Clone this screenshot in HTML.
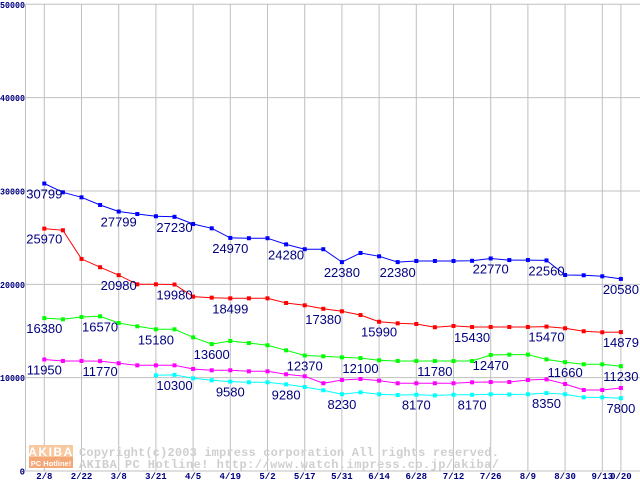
<!DOCTYPE html>
<html><head><meta charset="utf-8"><style>
html,body{margin:0;padding:0;background:#fff;}
svg{display:block;}
</style></head><body>
<svg id="chart" width="640" height="480" xmlns="http://www.w3.org/2000/svg" font-family="Liberation Sans, sans-serif">
<g id="grid"></g>
<g id="watermark">
  <rect x="29" y="445" width="44" height="12" fill="#f8c8a0"/>
  <rect x="29" y="457" width="44" height="11" fill="#f4a878"/>
  <text x="51" y="456" text-anchor="middle" font-size="12" font-weight="bold" fill="#fff" letter-spacing="1.5">AKIBA</text>
  <text x="51" y="466" text-anchor="middle" font-size="7.5" font-weight="bold" fill="#fff">PC Hotline!</text>
  <text x="79" y="456" textLength="420" font-family="Liberation Mono, monospace" font-size="12" font-weight="bold" fill="#cfcfcf">Copyright(c)2003 impress corporation All rights reserved.</text>
  <text x="79" y="468" textLength="420" font-family="Liberation Mono, monospace" font-size="12" font-weight="bold" fill="#cfcfcf">AKIBA PC Hotline!  http://www.watch.impress.co.jp/akiba/</text>
</g>
<g id="series"></g>
<g id="labels"></g>
<g id="axes"></g>
</svg>
<script>
const yTicks = [0, 10000, 20000, 30000, 40000, 50000];
const xTickLabels = ["2/8","2/22","3/8","3/21","4/5","4/19","5/2","5/17","5/31","6/14","6/28","7/12","7/26","8/9","8/30","9/13","0/20"];
const xTickIndex = [0,2,4,6,8,10,12,14,16,18,20,22,24,26,28,30,31];
const blueValues = [30799,29860,29320,28500,27799,27530,27290,27230,26460,26000,24970,24940,24940,24280,23760,23760,22380,23360,23000,22380,22500,22500,22500,22520,22770,22600,22600,22560,21000,20970,20860,20580];
const redValues = [25970,25790,22720,21830,20980,20000,20000,19980,18680,18570,18499,18499,18499,18000,17750,17380,17110,16710,15990,15820,15750,15400,15540,15430,15430,15430,15430,15470,15290,14970,14860,14879];
const greenValues = [16380,16250,16500,16570,15860,15500,15180,15180,14320,13600,13930,13710,13470,12930,12370,12290,12180,12100,11860,11790,11790,11780,11780,11780,12430,12470,12470,11960,11660,11430,11430,11230];
const magentaValues = [11950,11790,11790,11770,11540,11320,11320,11320,10930,10790,10790,10680,10680,10360,10150,9400,9750,9860,9680,9400,9400,9400,9400,9500,9530,9530,9750,9820,9320,8680,8680,8890];
const cyanValues = [null,null,null,null,null,null,10250,10300,9930,9720,9580,9500,9500,9280,9000,8650,8230,8430,8220,8140,8170,8100,8170,8170,8220,8200,8220,8350,8220,7890,7890,7800];
const blueLabelIdx = [0,4,7,10,13,16,19,24,27,31];
const blueLabels = ["30799","27799","27230","24970","24280","22380","22380","22770","22560","20580"];
const redLabelIdx = [0,4,7,10,15,18,23,27,31];
const redLabels = ["25970","20980","19980","18499","17380","15990","15430","15470","14879"];
const greenLabelIdx = [0,3,6,9,14,17,21,24,28,31];
const greenLabels = ["16380","16570","15180","13600","12370","12100","11780","12470","11660","11230"];
const magentaLabelIdx = [0,3];
const magentaLabels = ["11950","11770"];
const cyanLabelIdx = [7,10,13,16,20,23,27,31];
const cyanLabels = ["10300","9580","9280","8230","8170","8170","8350","7800"];

const NS = "http://www.w3.org/2000/svg";
const X0 = 44.3, DX = 18.6, Y0 = 471, YMAX = 4.3, VMAX = 50000;
function xs(i){ return X0 + i*DX; }
function ys(v){ return Y0 - (Y0-YMAX)*v/VMAX; }
function mk(tag, attrs, parent){ const e=document.createElementNS(NS,tag); for(const k in attrs) e.setAttribute(k,attrs[k]); parent.appendChild(e); return e; }

const grid = document.getElementById('grid');
yTicks.forEach(t=>{
  const l = mk('line',{x1:25.5,x2:640,y1:ys(t),y2:ys(t),stroke:'#c0c0c0','stroke-width':1},grid);
  
  
});
const vl = mk('line',{x1:25.5,x2:25.5,y1:YMAX,y2:Y0,stroke:'#c0c0c0','stroke-width':1},grid);


xTickIndex.forEach(i=>{
  const l = mk('line',{x1:xs(i),x2:xs(i),y1:YMAX,y2:Y0,stroke:'#c0c0c0','stroke-width':1},grid);
  
  
});

const axes = document.getElementById('axes');
yTicks.forEach(t=>{
  const s = String(t);
  const attrs = {x:25,y:ys(t)+3.5,'text-anchor':'end','font-size':9,'font-weight':'bold',fill:'#000080','font-family':'Liberation Mono, monospace'};
  if(s.length>1){ attrs.x = 0; attrs['text-anchor']='start'; attrs.textLength = 25; attrs.lengthAdjust='spacingAndGlyphs'; }
  const tx = mk('text',attrs,axes);
  tx.textContent = s;
  
  
});
xTickIndex.forEach((i,k)=>{
  const tx = mk('text',{x:xs(i),y:479,'text-anchor':'middle','font-size':9,'font-weight':'bold',fill:'#000080','font-family':'Liberation Mono, monospace'},axes);
  tx.textContent = xTickLabels[k];
  
  
});

const seriesG = document.getElementById('series');
const labelsG = document.getElementById('labels');
function drawSeries(vals, color, name, lIdx, lTxt){
  let d='';
  vals.forEach((v,i)=>{ if(v==null) return; d += (d?'L':'M')+xs(i).toFixed(1)+','+ys(v).toFixed(1); });
  const p = mk('path',{d:d,fill:'none',stroke:color,'stroke-width':1},seriesG);
  
  
  vals.forEach((v,i)=>{
    if(v==null) return;
    const r = mk('rect',{x:xs(i)-2,y:ys(v)-2,width:4,height:4,fill:color},seriesG);
    
    
  });
  lIdx.forEach((i,k)=>{
    const tx = mk('text',{x:xs(i),y:ys(vals[i])+15,'text-anchor':'middle','font-size':13,fill:'#000080'},labelsG);
    tx.textContent = lTxt[k];
    
    
  });
}
drawSeries(cyanValues,'#00ffff','cyan-series',cyanLabelIdx,cyanLabels);
drawSeries(magentaValues,'#ff00ff','magenta-series',magentaLabelIdx,magentaLabels);
drawSeries(greenValues,'#00ff00','green-series',greenLabelIdx,greenLabels);
drawSeries(redValues,'#ff0000','red-series',redLabelIdx,redLabels);
drawSeries(blueValues,'#0000ff','blue-series',blueLabelIdx,blueLabels);
</script>
</body></html>
